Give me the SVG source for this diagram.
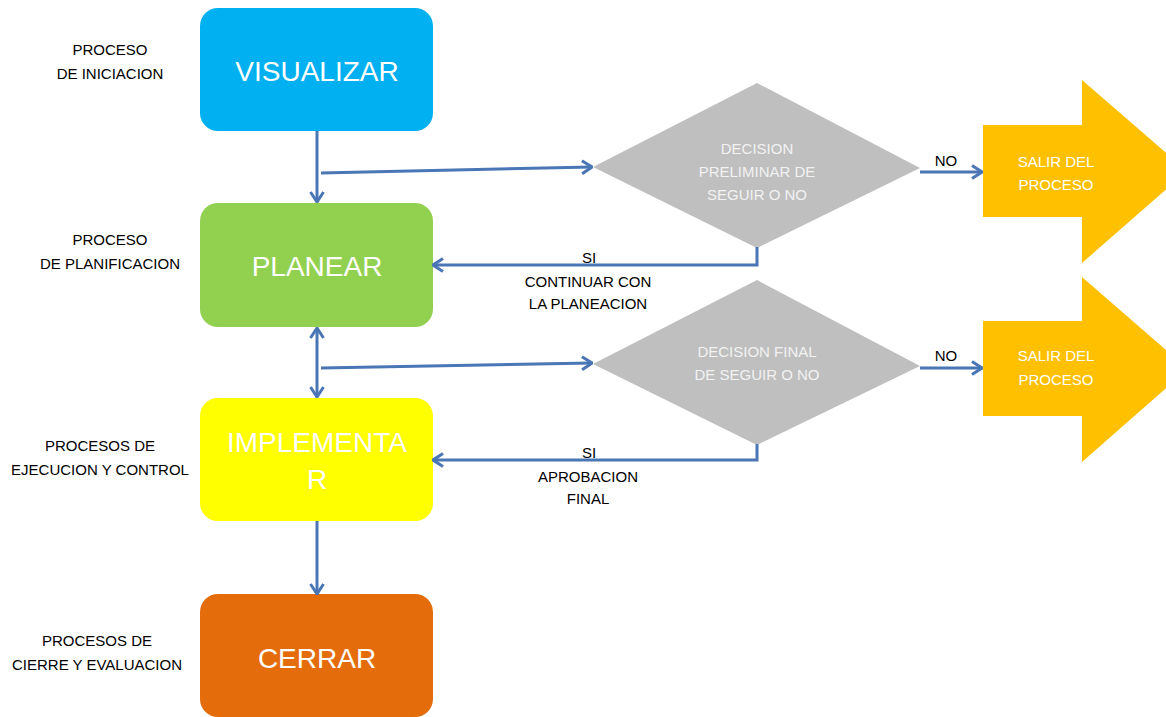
<svg xmlns="http://www.w3.org/2000/svg" width="1166" height="717" viewBox="0 0 1166 717">
<style>
.lbl{font-family:"Liberation Sans",Arial,sans-serif;font-size:15px;fill:#000;text-anchor:middle}
.big{font-family:"Liberation Sans",Arial,sans-serif;font-size:28px;fill:#fff;text-anchor:middle}
.dt{font-family:"Liberation Sans",Arial,sans-serif;font-size:15px;fill:#F2F2F2;text-anchor:middle}
.at{font-family:"Liberation Sans",Arial,sans-serif;font-size:15px;fill:#fff;text-anchor:middle}
.con{fill:none;stroke:#4A76B5;stroke-width:3}
</style>
<defs>
<marker id="ah" viewBox="0 0 12 16" refX="11" refY="8" markerWidth="12" markerHeight="16" markerUnits="userSpaceOnUse" orient="auto-start-reverse">
<path d="M1,1.5 L11,8 L1,14.5" fill="none" stroke="#4A76B5" stroke-width="3"/>
</marker>
</defs>
<rect width="1166" height="717" fill="#fff"/>

<g id="label-iniciacion"><text class="lbl" x="110" y="55">PROCESO</text><text class="lbl" x="110" y="79">DE INICIACION</text></g>
<g id="label-planificacion"><text class="lbl" x="110" y="245">PROCESO</text><text class="lbl" x="110" y="269">DE PLANIFICACION</text></g>
<g id="label-ejecucion"><text class="lbl" x="100" y="451">PROCESOS DE</text><text class="lbl" x="100" y="475">EJECUCION Y CONTROL</text></g>
<g id="label-cierre"><text class="lbl" x="97" y="646">PROCESOS DE</text><text class="lbl" x="97" y="670">CIERRE Y EVALUACION</text></g>

<g id="visualizar"><rect x="200" y="8" width="233" height="123" rx="18" fill="#00B0F0"/><text class="big" x="317" y="81">VISUALIZAR</text></g>
<g id="planear"><rect x="200" y="203" width="233" height="124" rx="18" fill="#92D050"/><text class="big" x="317" y="276">PLANEAR</text></g>
<g id="implementar"><rect x="200" y="398" width="233" height="123" rx="18" fill="#FFFF00"/><text class="big" x="317" y="452">IMPLEMENTA</text><text class="big" x="317" y="489">R</text></g>
<g id="cerrar"><rect x="200" y="594" width="233" height="123" rx="18" fill="#E46C0A"/><text class="big" x="317" y="668">CERRAR</text></g>

<g id="decision1"><polygon points="593,167 757,83 920,168 757,248" fill="#BFBFBF"/><text class="dt" x="757" y="154">DECISION</text><text class="dt" x="757" y="177">PRELIMINAR DE</text><text class="dt" x="757" y="200">SEGUIR O NO</text></g>
<g id="decision2"><polygon points="593,364 757,280 920,366 757,445" fill="#BFBFBF"/><text class="dt" x="757" y="357">DECISION FINAL</text><text class="dt" x="757" y="380">DE SEGUIR O NO</text></g>

<g id="salir1"><polygon points="983,125 1082,125 1082,80 1187,171 1082,263 1082,217 983,217" fill="#FFC000"/><text class="at" x="1056" y="167">SALIR DEL</text><text class="at" x="1056" y="190">PROCESO</text></g>
<g id="salir2"><polygon points="983,321 1082,321 1082,277 1188,369 1082,462 1082,416 983,416" fill="#FFC000"/><text class="at" x="1056" y="361">SALIR DEL</text><text class="at" x="1056" y="385">PROCESO</text></g>

<g id="connectors">
<line class="con" x1="317" y1="131" x2="317" y2="202" marker-end="url(#ah)"/>
<line class="con" x1="321" y1="173" x2="592" y2="167" marker-end="url(#ah)"/>
<line class="con" x1="920" y1="172" x2="982" y2="172" marker-end="url(#ah)"/>
<polyline class="con" points="757,247 757,265 433,265" marker-end="url(#ah)"/>
<line class="con" x1="317" y1="328" x2="317" y2="397" marker-start="url(#ah)" marker-end="url(#ah)"/>
<line class="con" x1="321" y1="368" x2="592" y2="363" marker-end="url(#ah)"/>
<line class="con" x1="920" y1="368" x2="982" y2="368" marker-end="url(#ah)"/>
<polyline class="con" points="757,444 757,460 433,460" marker-end="url(#ah)"/>
<line class="con" x1="317" y1="521" x2="317" y2="594" marker-end="url(#ah)"/>
</g>

<g id="connector-labels">
<text class="lbl" x="946" y="166">NO</text>
<text class="lbl" x="946" y="361">NO</text>
<text class="lbl" x="589" y="263">SI</text>
<text class="lbl" x="588" y="287">CONTINUAR CON</text>
<text class="lbl" x="588" y="309">LA PLANEACION</text>
<text class="lbl" x="589" y="458">SI</text>
<text class="lbl" x="588" y="482">APROBACION</text>
<text class="lbl" x="588" y="504">FINAL</text>
</g>
</svg>
